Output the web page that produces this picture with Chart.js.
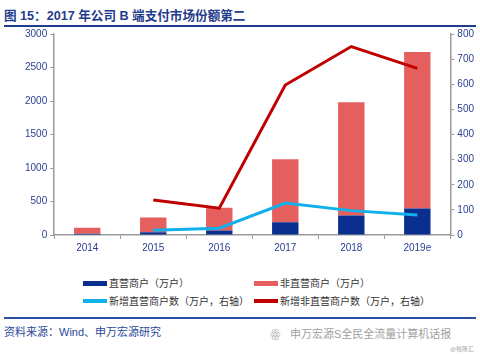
<!DOCTYPE html>
<html>
<head>
<meta charset="utf-8">
<script src="https://cdn.jsdelivr.net/npm/chart.js@4"></script>
<style>
  body { margin: 0; width: 480px; height: 354px; background: #fff; position: relative; overflow: hidden;
         font-family: "Liberation Sans", "Noto Sans CJK SC", sans-serif; }
  #title { position: absolute; left: 4px; top: 5px; font-size: 12.6px; font-weight: bold; color: #1f3c8c; white-space: nowrap; }
  #titleLine { position: absolute; left: 4px; top: 25px; width: 472px; height: 2px; background: #1f3c8c; }
  #chartBox { position: absolute; left: 0; top: 25px; width: 480px; height: 232px; }
  .lg { position: absolute; font-size: 10px; color: #333; white-space: nowrap; line-height: 12px; }
  .sw { display: inline-block; width: 24px; height: 5px; vertical-align: middle; margin-right: 2px; position: relative; top: -1px; }
  #footLine { position: absolute; left: 4px; top: 317px; width: 472px; height: 1.5px; background: #2b4fa8; }
  #source { position: absolute; left: 4px; top: 323px; font-size: 11px; color: #2a4a9a; white-space: nowrap; }
  #wm { position: absolute; left: 290px; top: 325px; font-size: 11px; color: #a0a0a0; white-space: nowrap; }
  #wmIcon { position: absolute; left: 270px; top: 325px; font-size: 12px; color: #b0b0b0; }
  #wm2 { position: absolute; left: 450px; top: 344px; font-size: 6px; color: #aaa; white-space: nowrap; }
</style>
</head>
<body>
<div id="title">图 15：2017 年公司 B 端支付市场份额第二</div>
<div id="titleLine"></div>
<div id="chartBox"><canvas id="c"></canvas></div>
<div class="lg" style="left:83px; top:278px;"><span class="sw" style="background:#0b2f8f"></span>直营商户（万户）</div>
<div class="lg" style="left:254px; top:278px;"><span class="sw" style="background:#e65f5f"></span>非直营商户（万户）</div>
<div class="lg" style="left:83px; top:296px;"><span class="sw" style="background:#10b0ea;height:4px"></span>新增直营商户数（万户，右轴）</div>
<div class="lg" style="left:254px; top:296px;"><span class="sw" style="background:#c00000;height:4px"></span>新增非直营商户数（万户，右轴）</div>
<div id="footLine"></div>
<div id="source">资料来源：Wind、申万宏源研究</div>
<div id="wmIcon">ꙮ</div>
<div id="wm">申万宏源S全民全流量计算机话报</div>
<div id="wm2">@格隆汇</div>
<script>
const years = ["2014", "2015", "2016", "2017", "2018", "2019e"];
const directMerchants = [20, 40, 67, 192, 290, 395];
const indirectMerchants = [90, 222, 338, 938, 1690, 2335];
const newDirect = [null, 19, 27, 127, 97, 80];
const newIndirect = [null, 139, 107, 597, 750, 663];
const leftTicks = [0, 500, 1000, 1500, 2000, 2500, 3000];
const rightTicks = [0, 100, 200, 300, 400, 500, 600, 700, 800];

const tickFont = { family: "Liberation Sans", size: 10 };
const tickColor = "#2b3f8f";
const axisGrey = "#9a9a9a";

new Chart(document.getElementById("c"), {
  data: {
    labels: years,
    datasets: [
      { type: "line", label: "新增直营商户数", data: newDirect, yAxisID: "y1",
        borderColor: "#10b0ea", borderWidth: 3, pointRadius: 0, tension: 0, order: 1 },
      { type: "line", label: "新增非直营商户数", data: newIndirect, yAxisID: "y1",
        borderColor: "#c00000", borderWidth: 3, pointRadius: 0, tension: 0, order: 0 },
      { type: "bar", label: "直营商户", data: directMerchants, yAxisID: "y",
        backgroundColor: "#0b2f8f", barPercentage: 0.4, categoryPercentage: 1, order: 3 },
      { type: "bar", label: "非直营商户", data: indirectMerchants, yAxisID: "y",
        backgroundColor: "#e65f5f", barPercentage: 0.4, categoryPercentage: 1, order: 3 }
    ]
  },
  options: {
    responsive: true,
    maintainAspectRatio: false,
    animation: false,
    layout: { padding: { left: 22, right: 3, top: 0, bottom: 0 } },
    plugins: { legend: { display: false }, tooltip: { enabled: false } },
    scales: {
      x: {
        stacked: true,
        offset: true,
        grid: { offset: true, drawOnChartArea: false, drawTicks: true, tickLength: 4, color: axisGrey },
        border: { color: axisGrey, width: 1.5 },
        ticks: { color: tickColor, font: tickFont, padding: 3 }
      },
      y: {
        stacked: true,
        position: "left",
        min: 0, max: 3000,
        afterBuildTicks: axis => { axis.ticks = leftTicks.map(v => ({ value: v })); },
        grid: { drawOnChartArea: false, drawTicks: true, tickLength: 4, color: axisGrey },
        border: { color: axisGrey, width: 1.5 },
        ticks: { color: tickColor, font: tickFont, padding: 3, callback: v => String(v) }
      },
      y1: {
        position: "right",
        min: 0, max: 800,
        afterBuildTicks: axis => { axis.ticks = rightTicks.map(v => ({ value: v })); },
        grid: { drawOnChartArea: false, drawTicks: true, tickLength: 4, color: axisGrey },
        border: { color: axisGrey, width: 1.5 },
        ticks: { color: tickColor, font: tickFont, padding: 3, callback: v => String(v) }
      }
    }
  }
});
</script>
</body>
</html>
